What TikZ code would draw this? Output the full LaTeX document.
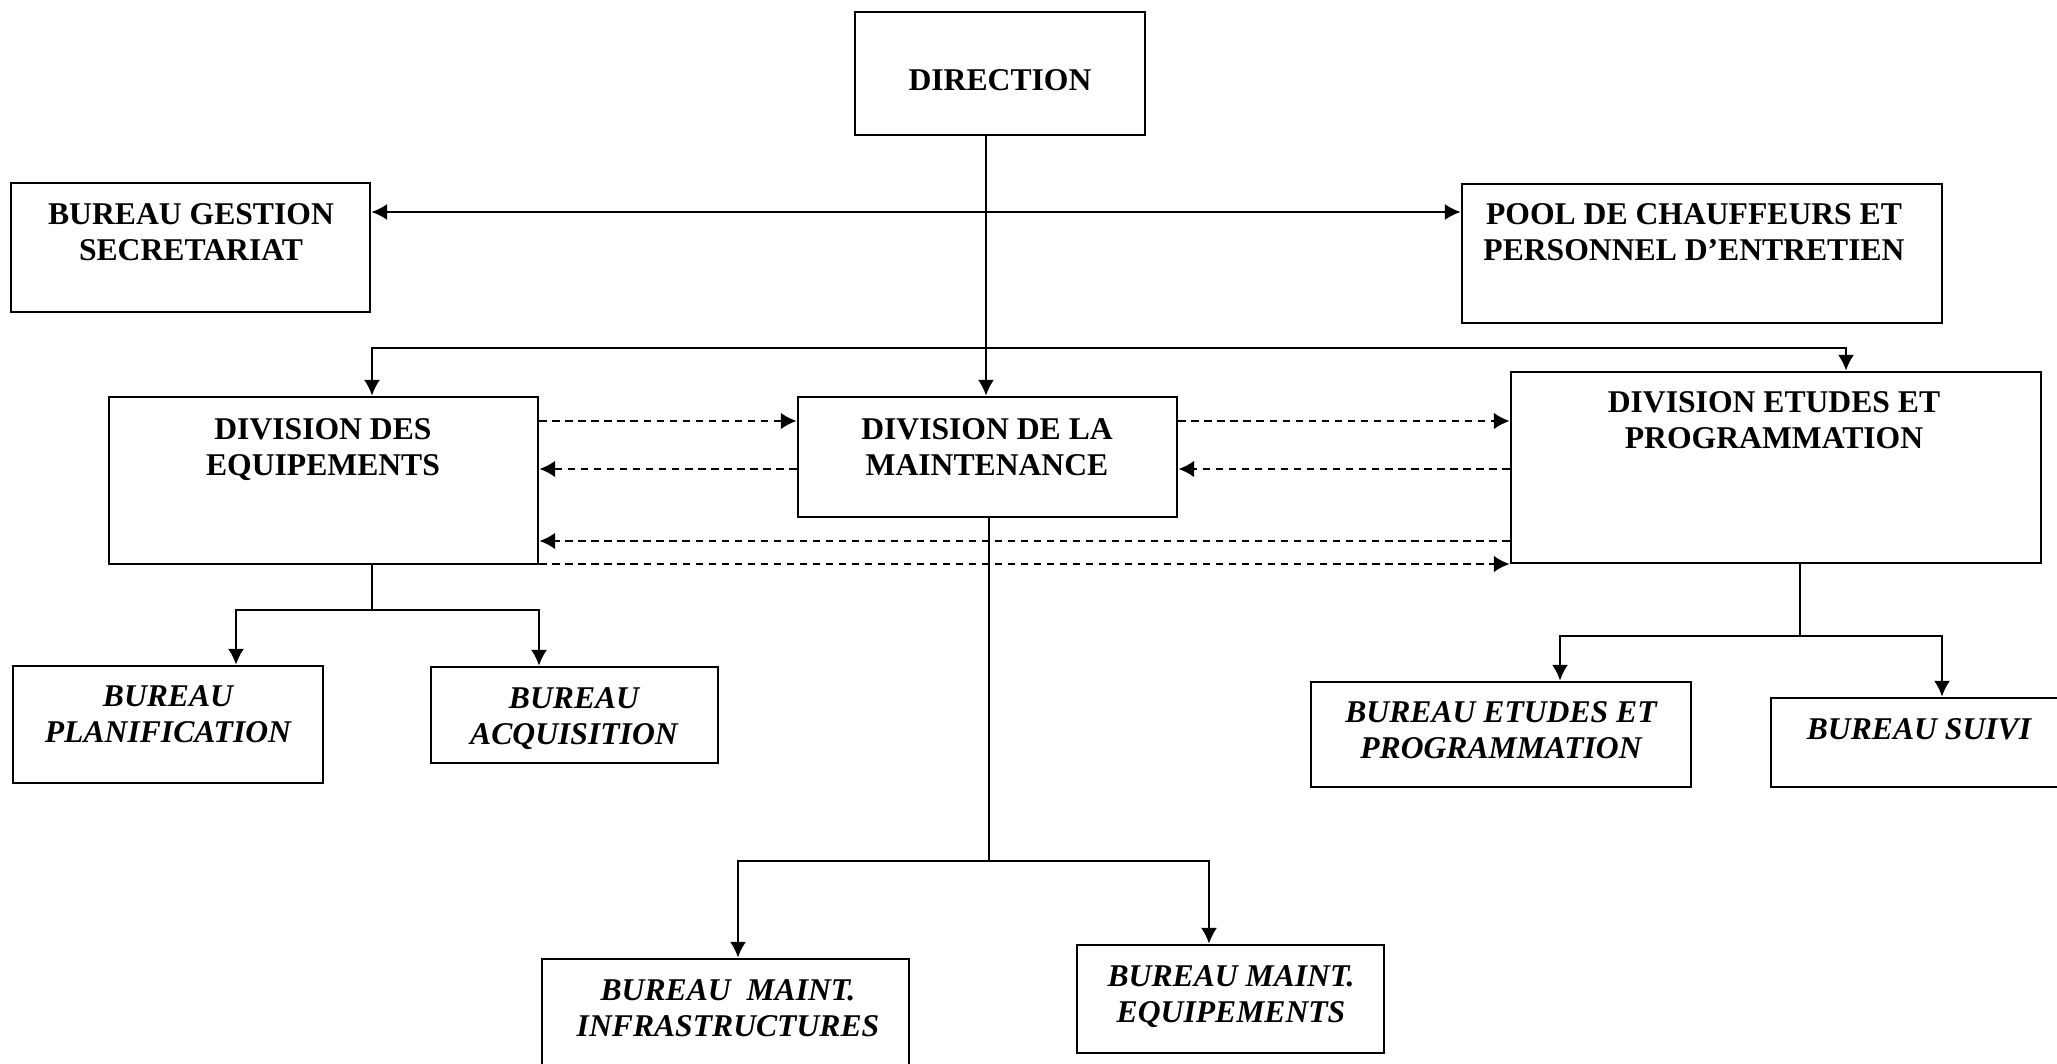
\documentclass[tikz,border=0pt]{standalone}
\usepackage{fontspec}
\setmainfont{Liberation Serif}
\usetikzlibrary{arrows.meta,fit}

\tikzset{
  box/.style={draw, line width=0.8pt, inner sep=0pt, rectangle},
  lbl/.style={font=\fontsize{9}{10.4}\selectfont\bfseries, align=center, inner sep=0pt, text depth=0pt},
  ilbl/.style={lbl, font=\fontsize{9}{10.4}\selectfont\bfseries\itshape},
  link/.style={line width=0.6pt},
  arr/.style={link, -{Latex[length=4.5pt,width=4.6pt]}},
  darr/.style={line width=0.7pt, dash pattern=on 2.1pt off 1.6pt, -{Latex[length=4.5pt,width=4.8pt]}}
}

\begin{document}
\begin{tikzpicture}[x=0.01cm, y=-0.01cm]
\useasboundingbox (0,0) rectangle (2057,1064);

% boxes
\node[box, fit={(855,12) (1145,135)}] (dir) {};
\node[box, fit={(11,183) (370,312)}] (bg) {};
\node[box, fit={(1462,184) (1942,323)}] (pool) {};
\node[box, fit={(109,397) (538,564)}] (dequip) {};
\node[box, fit={(798,397) (1177,517)}] (dmaint) {};
\node[box, fit={(1511,372) (2041,563)}] (detud) {};
\node[box, fit={(13,666) (323,783)}] (bplan) {};
\node[box, fit={(431,667) (718,763)}] (bacq) {};
\node[box, fit={(1311,682) (1691,787)}] (betud) {};
\node[box, fit={(1771,698) (2070,787)}] (bsuivi) {};
\node[box, fit={(542,959) (909,1080)}] (binfra) {};
\node[box, fit={(1077,945) (1384,1053)}] (bmeq) {};

% texts
\node[lbl] (dirT) at (1000,80) {DIRECTION};
\node[lbl] (bgT) at (191,232) {BUREAU GESTION\\SECRETARIAT};
\node[lbl] (poolT) at (1694,232) {POOL DE CHAUFFEURS ET\\PERSONNEL D’ENTRETIEN};
\node[lbl] (dequipT) at (323,447) {DIVISION DES\\EQUIPEMENTS};
\node[lbl] (dmaintT) at (987,447) {DIVISION DE LA\\MAINTENANCE};
\node[lbl] (detudT) at (1774,420) {DIVISION ETUDES ET\\PROGRAMMATION};
\node[ilbl] (bplanT) at (168,714) {BUREAU\\PLANIFICATION};
\node[ilbl] (bacqT) at (574,716) {BUREAU\\ACQUISITION};
\node[ilbl] (betudT) at (1501,730) {BUREAU ETUDES ET\\PROGRAMMATION};
\node[ilbl] (bsuiviT) at (1919,729) {BUREAU SUIVI};
\node[ilbl] (binfraT) at (728,1008) {BUREAU\ \ MAINT.\\INFRASTRUCTURES};
\node[ilbl] (bmeqT) at (1231,994) {BUREAU MAINT.\\EQUIPEMENTS};

% junctions of the solid links
\coordinate (jside) at (986,212);
\coordinate (jdiv) at (986,348);
\coordinate (jleft) at (372,348);
\coordinate (jright) at (1846,348);
\coordinate (jeq) at (372,610);
\coordinate (jeqL) at (236,610);
\coordinate (jeqR) at (539,610);
\coordinate (jet) at (1800,636);
\coordinate (jetL) at (1560,636);
\coordinate (jetR) at (1942,636);
\coordinate (jma) at (989,861);
\coordinate (jmaL) at (738,861);
\coordinate (jmaR) at (1209,861);

% direction links
\draw[arr] (dir.south -| jside) -- (jside |- dmaint.north);
\draw[arr] (jside) -- (bg.east |- jside);
\draw[arr] (jside) -- (pool.west |- jside);
\draw[arr] (jdiv) -- (jleft) -- (jleft |- dequip.north);
\draw[arr] (jdiv) -- (jright) -- (jright |- detud.north);

% division des equipements
\draw[link] (dequip.south -| jeq) -- (jeq);
\draw[arr] (jeqR) -- (jeqL) -- (jeqL |- bplan.north);
\draw[arr] (jeqL) -- (jeqR) -- (jeqR |- bacq.north);

% division etudes et programmation
\draw[link] (detud.south -| jet) -- (jet);
\draw[arr] (jetR) -- (jetL) -- (jetL |- betud.north);
\draw[arr] (jetL) -- (jetR) -- (jetR |- bsuivi.north);

% division de la maintenance
\draw[link] (dmaint.south -| jma) -- (jma);
\draw[arr] (jmaR) -- (jmaL) -- (jmaL |- binfra.north);
\draw[arr] (jmaL) -- (jmaR) -- (jmaR |- bmeq.north);

% exchanges between divisions
\coordinate (ra) at (0,421);
\coordinate (rb) at (0,469);
\coordinate (rc) at (0,541);
\coordinate (rd) at (0,564);
\draw[darr] (dequip.east |- ra) -- (dmaint.west |- ra);
\draw[darr] (dmaint.west |- rb) -- (dequip.east |- rb);
\draw[darr] (dmaint.east |- ra) -- (detud.west |- ra);
\draw[darr] (detud.west |- rb) -- (dmaint.east |- rb);
\draw[darr] (detud.west |- rc) -- (dequip.east |- rc);
\draw[darr] (dequip.east |- rd) -- (detud.west |- rd);
\end{tikzpicture}
\end{document}
